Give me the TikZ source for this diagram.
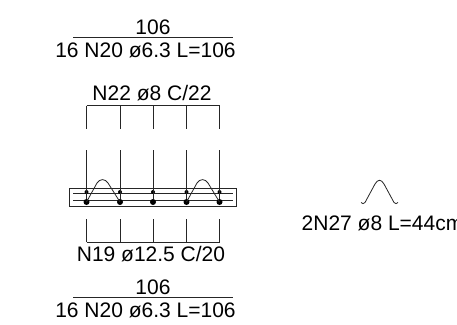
\documentclass[tikz,border=0pt]{standalone}
\usepackage{fontspec}
\setmainfont{Liberation Sans}
\begin{document}
\begin{tikzpicture}[x=1pt,y=-1pt,
			lbl/.style={inner sep=0pt,font=\fontsize{21}{21}\selectfont},
			thin line/.style={line width=0.8pt,black!85},
			big dot/.style={circle,fill=black,inner sep=0pt,minimum size=6pt},
			small dot/.style={circle,fill=black,inner sep=0pt,minimum size=4pt}
			]
			
			\useasboundingbox (0,0) rectangle (457,324);
			
			% top dimension
			\coordinate (ta) at (73,37);
			\coordinate (tb) at (233,37);
			\draw[thin line] (ta) -- (tb);
			\node[lbl] (tlen) at (153,27) {106};
			\node[lbl] (tbar) at (145.5,50) {16 N20 ø6.3 L=106};
			
			% bottom dimension
			\coordinate (ba) at (73,297);
			\coordinate (bb) at (233,297);
			\draw[thin line] (ba) -- (bb);
			\node[lbl] (blen) at (153,287) {106};
			\node[lbl] (bbar) at (145.5,310) {16 N20 ø6.3 L=106};
			
			% slab section
			\coordinate (sa) at (69.5,188);
			\coordinate (sb) at (236.5,206.5);
			\draw[thin line] (sa) rectangle (sb);
			\coordinate (la) at (73,193);
			\coordinate (lb) at (233,193);
			\coordinate (lc) at (73,200);
			\coordinate (ld) at (233,200);
			\draw[thin line] (la) -- (lb);
			\draw[thin line] (lc) -- (ld);
			
			\node[lbl] (ntop) at (152,93) {N22 ø8 C/22};
			\node[lbl] (nbot) at (151,254) {N19 ø12.5 C/20};
			
			\coordinate (hl) at (86.5,105.5);
			\coordinate (hr) at (219.5,105.5);
			\draw[thin line] (hl) -- (hr);
			\coordinate (gl) at (86.5,242);
			\coordinate (gr) at (219.5,242);
			\draw[thin line] (gl) -- (gr);
			
			\foreach \s/\x in {1/86.5,2/120,3/153,4/186.5,5/219.5} {
				
				\node[small dot] (u\s) at (\x,192) {};
				\node[big dot] (d\s) at (\x,202) {};
				\coordinate (p\s) at (\x,105.5);
				\coordinate (q\s) at (\x,129);
				\coordinate (r\s) at (\x,150);
				\coordinate (v\s) at (\x,219);
				\coordinate (w\s) at (\x,242);
				\draw[thin line] (p\s) -- (q\s);
				\draw[thin line] (r\s) -- (d\s);
				\draw[thin line] (v\s) -- (w\s);
			}
			
			% hooks
			\draw[thin line] (d1.center) -- (97,183) .. controls (100,178.5) and (105,178.5) .. (108,183) -- (d2.center);
			\draw[thin line] (d4.center) -- (197,183) .. controls (200,178.5) and (205,178.5) .. (208,183) -- (d5.center);
			
			% single hook at right
			\coordinate (ka) at (361,202.5);
			\coordinate (kb) at (398,202.5);
			\draw[thin line] (ka) .. controls (362,204) and (364,204) .. (365,202.5) -- (375,184) .. controls (378,179) and (381,179) .. (384,184) -- (394,202.5) .. controls (395,204) and (397,204) .. (kb);
			\node[lbl,anchor=west] (nhook) at (301.5,223) {2N27 ø8 L=44cm};
			
			\end{tikzpicture}
\end{document}
